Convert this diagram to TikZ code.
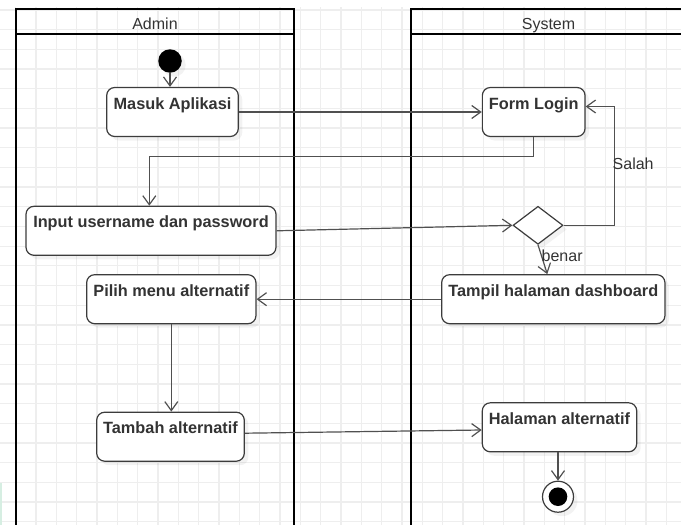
\documentclass[tikz,border=0pt]{standalone}
\usepackage{fontspec}
\setmainfont{Liberation Sans}
\usetikzlibrary{arrows.meta,shapes.geometric,shadows}

\definecolor{gridc}{HTML}{EEEEEE}
\definecolor{inkc}{HTML}{333333}
\definecolor{edgec}{HTML}{505050}
\definecolor{boxc}{HTML}{3C3C3C}
\definecolor{tintc}{HTML}{D6EEE2}

\tikzset{
  gridline/.style={draw=gridc, line width=1.3pt},
  lane/.style={draw=black, line width=2.2pt},
  lanetitle/.style={text=inkc, font=\fontsize{16}{19}\selectfont, inner sep=0pt, anchor=base},
  softshadow/.style={drop shadow={shadow xshift=4pt, shadow yshift=-4pt, opacity=0.10}},
  act/.style={draw=boxc, fill=white, rounded corners=8pt, line width=1.2pt,
    inner xsep=1pt, inner ysep=0pt, text height=21.5pt, text depth=27.5pt,
    text=inkc, font=\fontsize{16.3}{19}\selectfont\bfseries, softshadow},
  decision/.style={diamond, draw=boxc, fill=white, line width=1.2pt, inner sep=0pt,
    minimum width=50pt, minimum height=38pt, softshadow},
  startdot/.style={circle, fill=black, inner sep=0pt, minimum size=23.5pt, softshadow},
  enddot/.style={circle, draw=boxc, fill=white, line width=1.2pt, inner sep=0pt,
    minimum size=31pt, softshadow},
  flow/.style={draw=edgec, line width=1.2pt,
    -{Straight Barb[length=9pt,width=13pt,line width=1.2pt]}},
  guard/.style={text=inkc, font=\fontsize{16}{19}\selectfont, inner sep=0pt, anchor=base west}
}

\begin{document}
\begin{tikzpicture}[x=1pt,y=-1pt]
\useasboundingbox (0,0) rectangle (681,525);

% background grid
\begin{scope}
  \clip (0,7) rectangle (681,525);
  \foreach \i in {0,...,34} \draw[gridline] ({-4.63+20.33*\i},7) -- ++(0,520);
  \foreach \j in {0,...,26} \draw[gridline] (0,{10+19.68*\j}) -- (681,{10+19.68*\j});
\end{scope}
\fill[tintc] (0,483) rectangle (1.8,525);

% swimlanes
\draw[lane] (16,9.3) rectangle (294,545);
\draw[lane] (16,34.3) -- (294,34.3);
\node[lanetitle] (admintitle) at (155,29.3) {Admin};
\draw[lane] (411,9.3) rectangle (686,545);
\draw[lane] (411,34.3) -- (686,34.3);
\node[lanetitle] (systemtitle) at (548.5,29.3) {System};

% activities
\node[startdot] (start) at (170,61) {};
\node[act, minimum width=131.6pt] (masuk) at (172.5,112) {Masuk Aplikasi};
\node[act, minimum width=102.7pt] (form) at (533.7,112) {Form Login};
\node[act, minimum width=250pt] (inp) at (151,230.8) {Input username dan password};
\node[decision] (dia) at (538,225.3) {};
\node[act, minimum width=169.3pt] (pilih) at (171.3,299.2) {Pilih menu alternatif};
\node[act, minimum width=223.3pt] (tampil) at (553.3,299.2) {Tampil halaman dashboard};
\node[act, minimum width=147.6pt] (tambah) at (170.5,436.7) {Tambah alternatif};
\node[act, minimum width=154.4pt] (hal) at (559.5,427.3) {Halaman alternatif};
\node[enddot] (stop) at (558,496.7) {};
\fill[black] (stop.center) circle (9.3pt);

% transitions
\draw[flow] (start) -- (start |- masuk.north);
\draw[flow] (masuk.east) -- (form.west);
\draw[flow] (form.south) -- ++(0,19) -| ([xshift=-1.7pt]inp.north);
\draw[flow] (inp.east) -- (dia.west);
\draw[flow] (dia.east) -- ++(51,0) |- ([yshift=5.5pt]form.east);
\node[guard] (salah) at (612.5,169.5) {Salah};
\draw[flow] (dia.south) -- ([xshift=-6pt]tampil.north);
\node[guard] (benar) at (541.5,261) {benar};
\draw[flow] (tampil.west) -- (pilih.east);
\draw[flow] (pilih.south) -- (tambah.north -| pilih.south);
\draw[flow] ([yshift=3.5pt]tambah.east) -- ([yshift=-2.7pt]hal.west);
\draw[flow] (hal.south -| stop.north) -- (stop.north);
\end{tikzpicture}
\end{document}
